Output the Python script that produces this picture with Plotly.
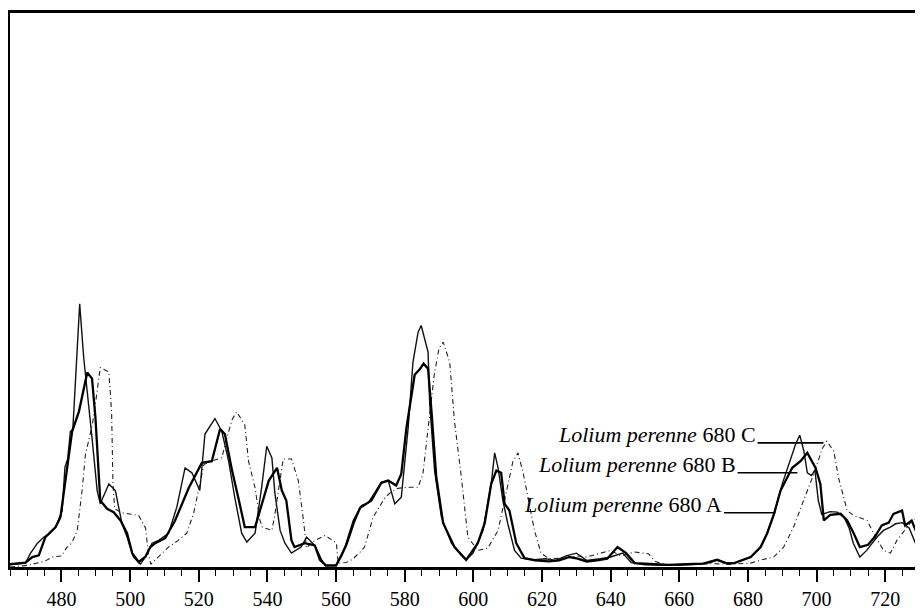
import plotly.graph_objects as go

# Wavelength (x) and relative intensity (y, % of frame height)
A_x = [465, 467, 469.5, 471.5, 473.4, 475.3, 478.3, 479.7, 481.2, 483.1,
       485.1, 486.5, 487.5, 488.9, 489.9, 491.3, 493.3, 495.2, 497.2, 499.1,
       500.6, 502.5, 504.4, 505.9, 507.3, 510.2, 513.1, 517.1, 520.9, 523.8,
       526.2, 527.6, 529.7, 531.7, 533.4, 536.4, 539, 540.4, 542.8, 544.2,
       545.5, 547, 547.9, 550.9, 553.8, 555.3, 557, 560, 561.5, 563,
       565.4, 567, 570.3, 573.2, 575.2, 577.5, 579, 580.5, 582.9, 584.5,
       585.5, 586.8, 587.8, 589.2, 591.2, 594.5, 597.9, 601.3, 603.3, 605.2,
       606.7, 608.1, 609.1, 610.5, 612.5, 614.9, 618, 622, 625, 628,
       630.4, 633, 636, 639, 642, 644.5, 647, 652, 657, 662,
       667, 671, 674, 676, 680.8, 683.7, 685.6, 687.6, 689.5, 692.9,
       695.3, 697.3, 699.7, 701.1, 702.1, 704, 707, 708.9, 710.8, 712.6,
       715, 717, 719, 721, 722.4, 724.9, 725.8, 727.7, 729.2, 731]
A_y = [0.5, 0.6, 0.8, 1.8, 2.1, 5.4, 7.2, 9, 16.2, 24.5,
       28.1, 32, 35.1, 34, 26.9, 12, 10.5, 9.9, 8.4, 6.1,
       2.5, 0.9, 1.8, 3.6, 4.3, 5.2, 8.4, 14.3, 18.8, 19.1,
       24.9, 24, 17.4, 12, 7.2, 7.2, 12.5, 15.6, 17.9, 13.8,
       12, 4.8, 3.6, 4.3, 3.9, 1.3, 0.3, 0.3, 2, 4,
       8.4, 10.7, 12, 15.2, 15.6, 14.7, 16.8, 25.1, 34.7, 35.8,
       36.7, 35.8, 28.1, 16.2, 7.9, 3.6, 1.3, 4.3, 7.9, 15,
       17.4, 17, 11.4, 10.2, 4.3, 1.6, 1.2, 1, 1.2, 1.8,
       1.5, 1, 1.2, 1.5, 3.6, 2.5, 0.7, 0.5, 0.4, 0.5,
       0.6, 1.3, 0.6, 0.7, 1.8, 3.6, 6.1, 9.6, 13.8, 17.9,
       19.1, 20.6, 17.9, 15, 8.4, 9.4, 9.6, 8.4, 6.1, 3.6,
       4, 5.5, 7.5, 8, 9.6, 10.2, 7.5, 8.4, 6.1, 5]

B_x = [465, 467, 469.5, 471, 473, 474.9, 476.5, 478.3, 480.2, 481,
       481.8, 482.6, 483.3, 485.3, 486.5, 488.9, 490.4, 491.3, 492.5, 493.8,
       495.7, 497.6, 499.1, 501, 503, 504.4, 506.4, 508.3, 511.2, 513.6,
       516, 518, 520.3, 521.8, 524.7, 526.7, 528.7, 530.5, 532.5, 534,
       536.4, 538.3, 539.8, 541.3, 542.2, 543.7, 545.1, 547, 549.8, 551.4,
       553.8, 555.8, 557, 560, 562.6, 565, 567.4, 569.4, 573.2, 575.2,
       577.1, 579, 581, 582.4, 583.9, 584.8, 586.8, 587.3, 588.7, 590.7,
       593.6, 596.5, 597.9, 599.9, 602.8, 605.2, 606.2, 607.2, 608.6, 610,
       612, 613.9, 617.8, 621, 624, 627, 630, 633, 637, 640,
       643.5, 646, 650, 655, 660, 665, 669, 671, 673, 676,
       680.8, 683.7, 685.6, 687.6, 690, 691.9, 693.9, 695.1, 696.3, 697.3,
       698.5, 699.5, 700.5, 701.5, 704, 706, 708, 709.5, 710.7, 712.6,
       714.6, 717.6, 719.5, 721.5, 723, 725, 727, 729, 731]
B_y = [0.4, 0.5, 0.7, 2.5, 4.3, 5.4, 6, 7.2, 10.2, 18,
       19.5, 24.5, 24.8, 47.5, 37.6, 23.3, 13.8, 11.4, 13, 15,
       13.8, 7.9, 5.4, 1.8, 0.5, 1.8, 4.3, 4.8, 6.1, 10.8,
       17.9, 17, 13.8, 24, 26.8, 24.5, 19.1, 12.5, 6.1, 4.5,
       6.1, 14.3, 21.8, 19.7, 13.2, 6.6, 4.3, 2.5, 3.6, 5.4,
       3.9, 1.3, 0.2, 0.2, 3.6, 8.4, 11.1, 11.6, 15.3, 15.6,
       11.4, 12.6, 25.1, 37, 42.4, 43.6, 38.8, 29.3, 17.4, 9,
       4.3, 2.1, 1.3, 2.5, 6.6, 15, 20.6, 17.9, 12, 7.9,
       3, 1.6, 1.3, 1.5, 1.2, 2, 2.5, 1.2, 1.5, 1.8,
       2.5, 0.8, 0.4, 0.3, 0.4, 0.5, 0.8, 1.3, 0.8, 0.7,
       1.8, 3.6, 6.1, 9.6, 15, 18.6, 22.2, 23.8, 20.9, 17,
       16.5, 17.5, 12, 9.5, 10, 9.9, 9, 7, 4.3, 1.8,
       3, 5.4, 6.6, 7.2, 7.8, 8, 7, 4, 3]

C_x = [465, 470, 475, 477.3, 480, 481.5, 483, 484.6, 486, 487,
       488, 489, 490, 491.3, 493.8, 494.6, 495, 495.5, 497.6, 502.5,
       504.5, 505.3, 506, 508.3, 511, 514, 516.5, 518.5, 520, 521.5,
       523, 526.7, 528.5, 529.7, 531, 532, 533.4, 534.5, 536.4, 537.8,
       538.5, 541.3, 542.2, 543.5, 544.6, 547, 549, 550.5, 551.4, 553,
       556.8, 560.1, 560.6, 563, 565, 567, 568.3, 570.8, 574.2, 576,
       578, 581, 583.9, 585.3, 587, 588.6, 590, 591.2, 593.1, 594.5,
       596.5, 598.4, 601.3, 604.2, 607.2, 610, 611.5, 613, 614.5, 615.9,
       617.8, 619.7, 622, 626.5, 630, 633, 637.2, 640, 643, 646.9,
       651, 653, 656, 660, 665, 670, 675, 680.8, 684, 687.5,
       690.4, 693.3, 696.2, 699.2, 701.6, 703, 705, 706.4, 708.9, 710.8,
       714.7, 716.6, 719.5, 721.5, 723.4, 726.3, 728, 730.2, 731]
C_y = [0, 0.3, 1, 1.8, 2, 3.5, 4.3, 6.6, 13.8, 20.4,
       23, 25.7, 30, 36, 35.2, 28, 15, 10.5, 9.8, 9.3,
       7, 2.5, 0.5, 1.8, 3.5, 4.8, 6.1, 9.7, 14, 18.5,
       19, 19.7, 24, 26.6, 28, 27, 25.7, 19.1, 14.3, 8.5,
       7.2, 6.6, 9.6, 15, 19.5, 19.5, 15.6, 8.4, 3.4, 4.5,
       5.7, 4.3, 0.7, 0.8, 1.5, 2.7, 3.6, 9, 12.5, 13.5,
       14.2, 14.4, 14.4, 16.8, 26, 34.7, 39.5, 40.6, 37, 26.3,
       16.2, 5.4, 3, 3.4, 6.6, 15, 19, 20.6, 17, 12.6,
       6.6, 2.5, 1.5, 1.6, 2, 1.8, 2.5, 3, 2, 2.7,
       2.4, 1, 0.4, 0.3, 0.5, 0.6, 0.5, 0.7, 1.3, 1.8,
       3.6, 7.2, 12, 16.8, 21.3, 22.7, 20.9, 16.1, 10.2, 9.3,
       8.4, 6.1, 3, 2.5, 4.8, 7.2, 8.5, 9, 9.2]

# Labels with leader lines
label_names = ["C", "B", "A"]
label_start_x = [682.8, 677.0, 673.0]
label_end_x = [702.0, 694.4, 688.0]
label_y = [22.4, 17.0, 9.8]

tick_vals = list(range(480, 721, 20))
tick_text = [str(v) for v in tick_vals]

FONT = "Liberation Serif, Times New Roman, serif"

fig = go.Figure()
fig.add_trace(go.Scatter(x=C_x, y=C_y, mode="lines", name="680 C",
                         line=dict(color="#222", width=1.1, dash="5px,3px,1px,3px")))
fig.add_trace(go.Scatter(x=B_x, y=B_y, mode="lines", name="680 B",
                         line=dict(color="#111", width=1.4)))
fig.add_trace(go.Scatter(x=A_x, y=A_y, mode="lines", name="680 A",
                         line=dict(color="#000", width=2.3)))

for name, xs, xe, yv in zip(label_names, label_start_x, label_end_x, label_y):
    fig.add_shape(type="line", x0=xs, x1=xe, y0=yv, y1=yv, xref="x", yref="y",
                  line=dict(color="black", width=1.6))
    fig.add_annotation(x=xs, y=yv, xref="x", yref="y", xanchor="right", yanchor="bottom",
                       yshift=-6, showarrow=False,
                       text=f"<i>Lolium perenne</i> 680 {name}",
                       font=dict(family=FONT, size=22, color="black"))

fig.update_layout(
    width=923, height=613,
    margin=dict(l=2, r=8, t=2, b=54),
    paper_bgcolor="white", plot_bgcolor="white",
    showlegend=False,
    xaxis=dict(range=[465, 731], showgrid=False, zeroline=False,
               showline=True, linecolor="black", linewidth=2.5, mirror=True,
               ticks="outside", tickvals=tick_vals, ticktext=tick_text,
               ticklen=12, tickwidth=1.6, tickcolor="black",
               tickfont=dict(family=FONT, size=20, color="black"),
               minor=dict(dtick=5, tick0=465, ticks="outside", ticklen=6,
                          tickwidth=1.4, tickcolor="black", showgrid=False)),
    yaxis=dict(range=[0, 100], showgrid=False, zeroline=False,
               showline=True, linecolor="black", linewidth=1.8,
               showticklabels=False, ticks=""),
)

fig.write_html("out.html")
